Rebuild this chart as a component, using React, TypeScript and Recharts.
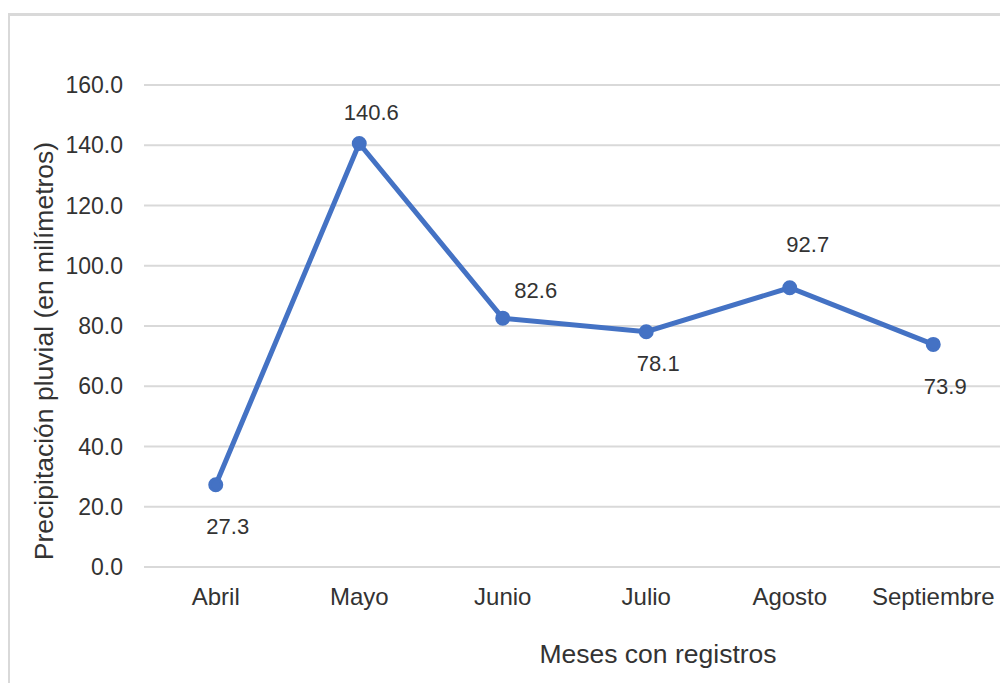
import React from 'react'
import { LineChart, Line, XAxis, YAxis, CartesianGrid, LabelList, Label } from 'recharts'

const MONTHS = ['Abril', 'Mayo', 'Junio', 'Julio', 'Agosto', 'Septiembre']
const RAINFALL = [27.3, 140.6, 82.6, 78.1, 92.7, 73.9]
const Y_TICKS = [0, 20, 40, 60, 80, 100, 120, 140, 160]

// where each value label sits relative to its point
const LABEL_OFFSETS = [
  [12, 42],
  [12, -31],
  [33, -28],
  [12, 32],
  [18, -43],
  [12, 42],
]

const data = MONTHS.map((month, i) => ({ month, value: RAINFALL[i] }))

const FONT = '"Liberation Sans", Arial, sans-serif'
const TEXT = '#333333'
const BLUE = '#4472C4'
const GRID = '#d9d9d9'

const ValueLabel = (props: any) => {
  const { x, y, index, value } = props
  const [dx, dy] = LABEL_OFFSETS[index] || [0, -20]
  return (
    <text
      x={x + dx}
      y={y + dy}
      textAnchor="middle"
      dominantBaseline="central"
      fontSize={22}
      fontFamily={FONT}
      fill={TEXT}
    >
      {Number(value).toFixed(1)}
    </text>
  )
}

const YTitle = () => (
  <text
    x={45}
    y={343}
    transform="rotate(-90, 45, 343)"
    textAnchor="middle"
    fontSize={26.5}
    fontFamily={FONT}
    fill={TEXT}
  >
    Precipitación pluvial (en milímetros)
  </text>
)

const XTitle = () => (
  <text x={650} y={655} textAnchor="middle" fontSize={26.5} fontFamily={FONT} fill={TEXT}>
    Meses con registros
  </text>
)

const App = () => {
  return (
    <div style={{ position: 'relative', width: 1000, height: 675, background: '#fff' }}>
      <div
        style={{
          position: 'absolute',
          left: -1,
          top: 5,
          width: 1010,
          height: 680,
          borderTop: `3px solid ${GRID}`,
          borderLeft: `3px solid ${GRID}`,
          boxSizing: 'border-box',
        }}
      />
      <div style={{ position: 'absolute', left: 0, top: 0 }}>
        <LineChart
          width={1000}
          height={675}
          data={data}
          margin={{ top: 77, right: 3, left: 0, bottom: 0 }}
          style={{ fontFamily: FONT }}
        >
          <CartesianGrid vertical={false} stroke={GRID} strokeWidth={2} />
          <XAxis
            dataKey="month"
            height={116}
            axisLine={false}
            tickLine={false}
            tickMargin={15}
            padding={{ left: 71.75, right: 71.75 }}
            tick={{ fontSize: 24, fill: TEXT, fontFamily: FONT }}
          >
            <Label content={<XTitle />} />
          </XAxis>
          <YAxis
            width={136}
            domain={[0, 160]}
            ticks={Y_TICKS}
            axisLine={false}
            tickLine={false}
            tickMargin={15}
            tickFormatter={(v: number) => v.toFixed(1)}
            tick={{ fontSize: 23, fill: TEXT, fontFamily: FONT }}
          >
            <Label content={<YTitle />} />
          </YAxis>
          <Line
            type="linear"
            dataKey="value"
            stroke={BLUE}
            strokeWidth={5}
            dot={{ r: 6, fill: BLUE, stroke: BLUE, strokeWidth: 3 }}
            activeDot={false}
            isAnimationActive={false}
          >
            <LabelList dataKey="value" content={<ValueLabel />} />
          </Line>
        </LineChart>
      </div>
    </div>
  )
}

export default App
